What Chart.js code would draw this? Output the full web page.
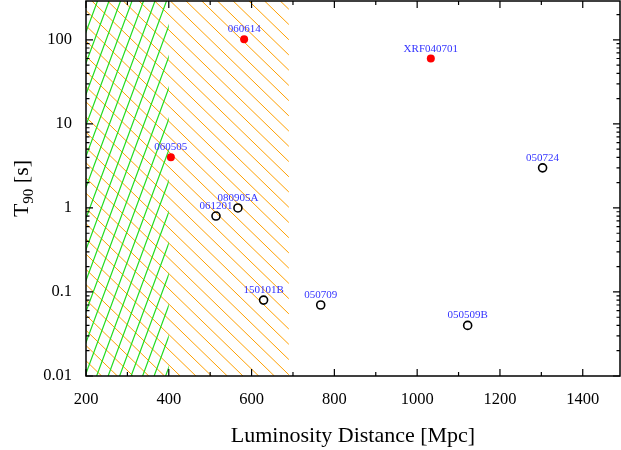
<!DOCTYPE html>
<html>
<head>
<meta charset="utf-8">
<script src="https://cdn.jsdelivr.net/npm/chart.js@4"></script>
<style>
  html, body { margin: 0; padding: 0; background: #fff; }
  #wrap { width: 621px; height: 450px; }
</style>
</head>
<body>
<div id="wrap"><canvas id="grbChart"></canvas></div>
<script>
// red filled: long GRBs / XRF, black open: short GRBs
var redNames = ['060614', 'XRF040701', '060505'];
var redDist = [582, 1033, 405];
var redT90 = [102, 60, 4.0];

var openNames = ['061201', '080905A', '050724', '150101B', '050709', '050509B'];
var openDist = [514, 567, 1303, 629, 767, 1122];
var openT90 = [0.8, 1.0, 3.0, 0.08, 0.07, 0.04];

var xTicks = [200, 400, 600, 800, 1000, 1200, 1400];
var yTicks = [0.01, 0.1, 1, 10, 100];

// hatched distance ranges [Mpc]
var greenRange = [200, 400];
var orangeRange = [200, 690];

function toPoints(xs, ys) {
    return xs.map(function(x, i) { return { x: x, y: ys[i] }; });
}

var serif = '"Liberation Serif", "DejaVu Serif", serif';

function hatch(ctx, area, x0, x1, color, lw, step, slope) {
    // slope: dy/dx of lines in pixels (positive = "\" going down-right)
    ctx.save();
    ctx.beginPath();
    ctx.rect(x0, area.top, x1 - x0, area.bottom - area.top);
    ctx.clip();
    ctx.strokeStyle = color;
    ctx.lineWidth = lw;
    var h = area.bottom - area.top;
    var span = h / Math.abs(slope);
    ctx.beginPath();
    for (var s = x0 - span - step; s < x1 + span + step; s += step) {
        if (slope > 0) {
            ctx.moveTo(s, area.top);
            ctx.lineTo(s + span, area.bottom);
        } else {
            ctx.moveTo(s, area.bottom);
            ctx.lineTo(s + span, area.top);
        }
    }
    ctx.stroke();
    ctx.restore();
}

var decorPlugin = {
    id: 'decor',
    beforeDatasetsDraw: function(chart) {
        var ctx = chart.ctx, area = chart.chartArea, xs = chart.scales.x;
        hatch(ctx, area, xs.getPixelForValue(orangeRange[0]), xs.getPixelForValue(orangeRange[1]),
              '#ffa000', 1.0, 15.7, 0.97);
        hatch(ctx, area, xs.getPixelForValue(greenRange[0]), xs.getPixelForValue(greenRange[1]),
              '#22dd22', 1.2, 11.5, -2.7);
    },
    afterDraw: function(chart) {
        var ctx = chart.ctx, area = chart.chartArea;
        var xs = chart.scales.x, ys = chart.scales.y;
        ctx.save();
        ctx.strokeStyle = '#000';
        ctx.lineWidth = 1.2;
        ctx.beginPath();
        // x ticks, major and minor, top and bottom, inward
        for (var v = 200; v <= xs.max; v += 100) {
            var px = xs.getPixelForValue(v);
            var len = (v % 200 === 0) ? 7 : 4;
            ctx.moveTo(px, area.bottom); ctx.lineTo(px, area.bottom - len);
            ctx.moveTo(px, area.top); ctx.lineTo(px, area.top + len);
        }
        // y ticks, log major and minor, left and right
        for (var d = -2; d <= 2; d++) {
            for (var m = 1; m <= 9; m++) {
                var val = m * Math.pow(10, d);
                if (val > ys.max) break;
                var py = ys.getPixelForValue(val);
                var l = (m === 1) ? 7 : 3.5;
                ctx.moveTo(area.left, py); ctx.lineTo(area.left + l, py);
                ctx.moveTo(area.right, py); ctx.lineTo(area.right - l, py);
            }
        }
        ctx.stroke();
        // frame
        ctx.lineWidth = 1.5;
        ctx.strokeRect(area.left, area.top, area.right - area.left, area.bottom - area.top);

        // point labels
        ctx.fillStyle = '#3333ff';
        ctx.font = '11px ' + serif;
        ctx.textAlign = 'center';
        ctx.textBaseline = 'alphabetic';
        var names = [redNames, openNames];
        chart.data.datasets.forEach(function(ds, i) {
            chart.getDatasetMeta(i).data.forEach(function(pt, j) {
                ctx.fillText(names[i][j], pt.x, pt.y - 7);
            });
        });

        // axis titles
        ctx.fillStyle = '#000';
        ctx.font = '22px ' + serif;
        ctx.textAlign = 'center';
        ctx.fillText('Luminosity Distance [Mpc]', (area.left + area.right) / 2, 442);

        ctx.translate(28, (area.top + area.bottom) / 2);
        ctx.rotate(-Math.PI / 2);
        ctx.textAlign = 'left';
        var wT = ctx.measureText('T').width;
        ctx.font = '15px ' + serif;
        var wSub = ctx.measureText('90').width;
        ctx.font = '22px ' + serif;
        var wRest = ctx.measureText(' [s]').width;
        var x0 = -(wT + wSub + wRest) / 2;
        ctx.fillText('T', x0, 0);
        ctx.font = '15px ' + serif;
        ctx.fillText('90', x0 + wT, 5);
        ctx.font = '22px ' + serif;
        ctx.fillText(' [s]', x0 + wT + wSub, 0);
        ctx.restore();
    }
};

function noPad(scale) {
    scale.paddingTop = 0;
    scale.paddingBottom = 0;
    scale.paddingLeft = 0;
    scale.paddingRight = 0;
}

var ctx = document.getElementById('grbChart').getContext('2d');
var grbChart = new Chart(ctx, {
    type: 'scatter',
    data: {
        datasets: [{
            label: 'long',
            data: toPoints(redDist, redT90),
            pointRadius: 4,
            pointBackgroundColor: '#ff0000',
            pointBorderColor: '#ff0000',
            pointBorderWidth: 0
        }, {
            label: 'short',
            data: toPoints(openDist, openT90),
            pointRadius: 4,
            pointBackgroundColor: 'rgba(0,0,0,0)',
            pointBorderColor: '#000',
            pointBorderWidth: 1.6
        }]
    },
    options: {
        responsive: true,
        maintainAspectRatio: false,
        animation: false,
        devicePixelRatio: 1,
        layout: { autoPadding: false, padding: { top: 1, right: 1, left: 0, bottom: 0 } },
        plugins: { legend: { display: false }, tooltip: { enabled: false } },
        scales: {
            x: {
                type: 'linear',
                min: 200,
                max: 1490,
                afterBuildTicks: function(scale) {
                    scale.ticks = xTicks.map(function(v) { return { value: v }; });
                },
                afterFit: function(scale) { scale.height = 74; noPad(scale); },
                grid: { display: false, drawTicks: false },
                border: { display: false },
                ticks: {
                    padding: 14,
                    color: '#000',
                    maxRotation: 0,
                    font: { family: serif, size: 16.5 },
                    callback: function(v) { return String(v); }
                }
            },
            y: {
                type: 'logarithmic',
                min: 0.01,
                max: 290,
                afterBuildTicks: function(scale) {
                    scale.ticks = yTicks.map(function(v) { return { value: v }; });
                },
                afterFit: function(scale) { scale.width = 86; noPad(scale); },
                grid: { display: false, drawTicks: false },
                border: { display: false },
                ticks: {
                    padding: 14,
                    color: '#000',
                    font: { family: serif, size: 16.5 },
                    callback: function(v) { return String(v); }
                }
            }
        }
    },
    plugins: [decorPlugin]
});
</script>
</body>
</html>
